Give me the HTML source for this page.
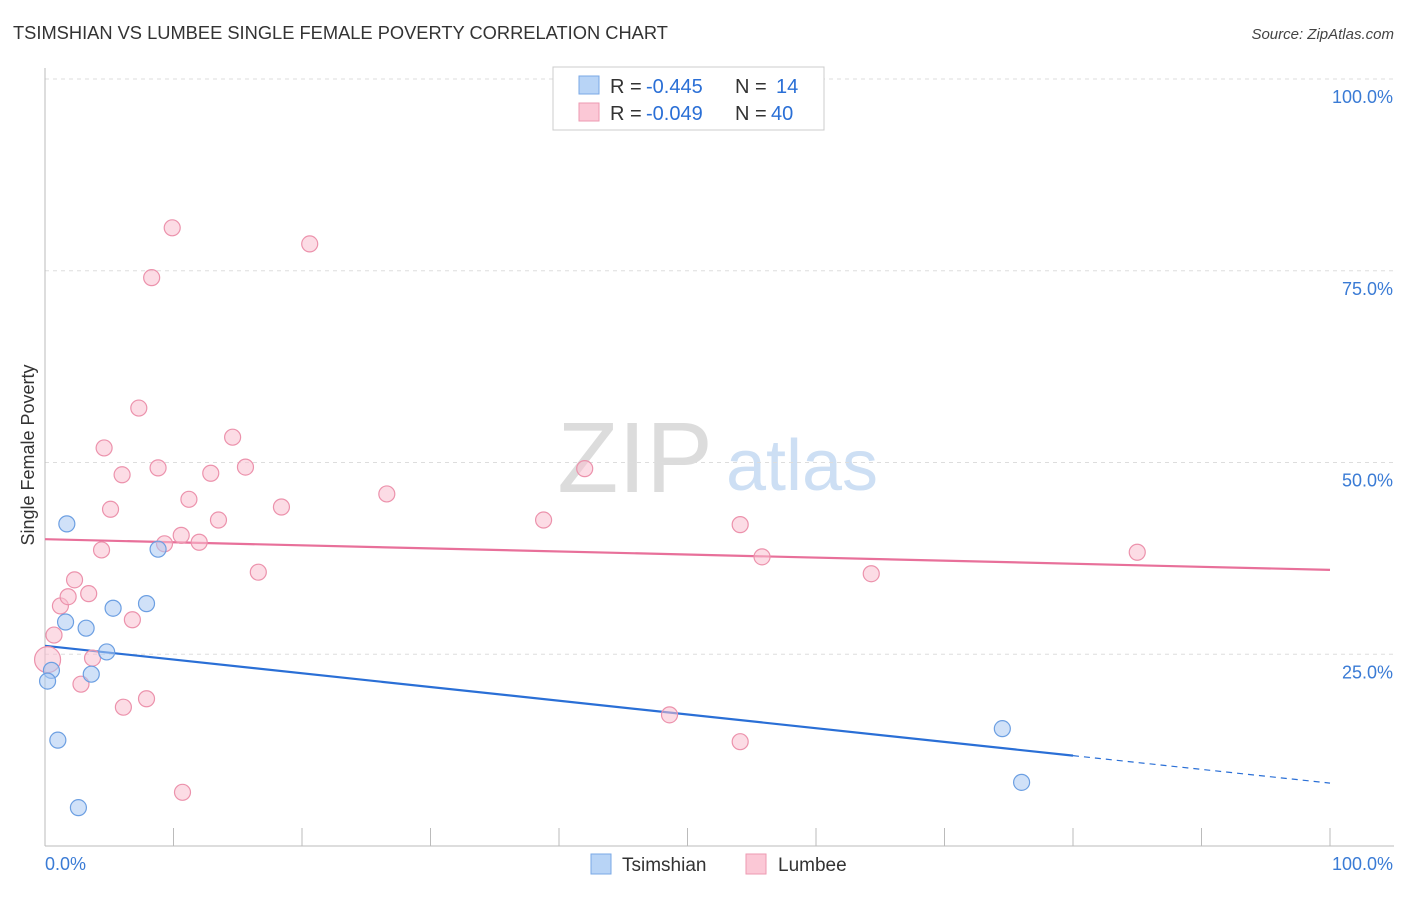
<!DOCTYPE html>
<html><head><meta charset="utf-8"><style>
body{margin:0;background:#fff;font-family:"Liberation Sans",sans-serif;}
svg text{font-family:"Liberation Sans",sans-serif;}
</style></head><body>
<svg id="chart" width="1406" height="892" xmlns="http://www.w3.org/2000/svg">
<text x="13" y="39" font-size="18.3" fill="#333">TSIMSHIAN VS LUMBEE SINGLE FEMALE POVERTY CORRELATION CHART</text>
<text x="1394" y="39" font-size="15" fill="#444" text-anchor="end" font-style="italic">Source: ZipAtlas.com</text>
<g>
<text x="635" y="492" font-size="100" fill="#dcdcdc" font-family="Liberation Serif" text-anchor="middle">ZIP</text>
<text x="802" y="490" font-size="72" fill="#cddff4" text-anchor="middle">atlas</text>
</g>
<g id="grid"></g>
<g id="axes"></g>
<text transform="translate(34,455) rotate(-90)" font-size="18" fill="#333" text-anchor="middle">Single Female Poverty</text>
<g id="lines"></g>
<g id="points"></g>
<g>
<rect x="553" y="67" width="271" height="63" fill="#fff" stroke="#ccc"/>
<rect x="579" y="76" width="20" height="18" fill="#b8d4f6" stroke="#7aa8e6"/>
<rect x="579" y="103" width="20" height="18" fill="#fbc8d6" stroke="#ee9ab2"/>
<text x="610" y="93" font-size="20" fill="#333">R =</text>
<text x="646" y="93" font-size="20" fill="#2a6fd6">-0.445</text>
<text x="735" y="93" font-size="20" fill="#333">N =</text>
<text x="776" y="93" font-size="20" fill="#2a6fd6">14</text>
<text x="610" y="120" font-size="20" fill="#333">R =</text>
<text x="646" y="120" font-size="20" fill="#2a6fd6">-0.049</text>
<text x="735" y="120" font-size="20" fill="#333">N =</text>
<text x="771" y="120" font-size="20" fill="#2a6fd6">40</text>
</g>
<g>
<rect x="591" y="854" width="20" height="20" fill="#b8d4f6" stroke="#7aa8e6"/>
<text x="622" y="871" font-size="19" fill="#333">Tsimshian</text>
<rect x="746" y="854" width="20" height="20" fill="#fbc8d6" stroke="#ee9ab2"/>
<text x="778" y="871" font-size="19" fill="#333">Lumbee</text>
</g>
</svg>
<script>
const blueX=[1.7,8.8,1.6,3.2,5.3,7.9,4.8,3.6,0.5,0.2,1.0,2.6,74.5,76.0];
const blueY=[42.0,38.7,29.2,28.4,31.0,31.6,25.3,22.4,22.9,21.5,13.8,5.0,15.3,8.3];
const pinkX=[9.9,20.6,8.3,7.3,4.6,14.6,6.0,8.8,12.9,15.6,5.1,11.2,18.4,26.6,13.5,10.6,9.3,12.0,4.4,16.6,2.3,3.4,1.2,1.8,6.8,0.7,3.7,0.2,2.8,7.9,6.1,10.7,38.8,42.0,54.1,55.8,64.3,85.0,48.6,54.1];
const pinkY=[80.6,78.5,74.1,57.1,51.9,53.3,48.4,49.3,48.6,49.4,43.9,45.2,44.2,45.9,42.5,40.5,39.4,39.6,38.6,35.7,34.7,32.9,31.3,32.5,29.5,27.5,24.5,24.3,21.1,19.2,18.1,7.0,42.5,49.2,41.9,37.7,35.5,38.3,17.1,13.6];
const pinkR=[8,8,8,8,8,8,8,8,8,8,8,8,8,8,8,8,8,8,8,8,8,8,8,8,8,8,8,13,8,8,8,8,8,8,8,8,8,8,8,8];
const blueTrend=[26.1,8.2];
const blueSolidEnd=80;
const pinkTrend=[40.0,36.0];
const yTicks=[25,50,75,100];
const yTickLabels=["25.0%","50.0%","75.0%","100.0%"];
const xTickLabels=["0.0%","100.0%"];
const NS="http://www.w3.org/2000/svg";
const X=v=>45+v*12.85, Y=v=>846-v*7.67;
function mk(parent,tag,attrs){const e=document.createElementNS(NS,tag);for(const k in attrs)e.setAttribute(k,attrs[k]);document.getElementById(parent).appendChild(e);return e;}
yTicks.forEach((t,i)=>{
 const l=mk('grid','line',{x1:45,x2:1394,y1:Y(t),y2:Y(t),stroke:'#ddd','stroke-dasharray':'4,4'});
 
 
 const tx=mk('grid','text',{x:1393,y:Y(t)+24,'font-size':18,fill:'#3a7bd5','text-anchor':'end'});
 tx.textContent=yTickLabels[i];
 
 
});
mk('axes','line',{x1:45,x2:45,y1:68,y2:846,stroke:'#bbb'});
mk('axes','line',{x1:45,x2:1394,y1:846,y2:846,stroke:'#bbb'});
for(let i=0;i<=10;i++){const t=mk('axes','line',{x1:X(i*10),x2:X(i*10),y1:828,y2:846,stroke:'#bbb'});}
const xl0=mk('axes','text',{x:45,y:870,'font-size':18,fill:'#3a7bd5'});xl0.textContent=xTickLabels[0];


const xl1=mk('axes','text',{x:1393,y:870,'font-size':18,fill:'#3a7bd5','text-anchor':'end'});xl1.textContent=xTickLabels[1];


function pts(xs,ys,rs,fill,stroke,name){xs.forEach((x,i)=>{const c=mk('points','circle',{cx:X(x),cy:Y(ys[i]),r:rs?rs[i]:8,fill:fill,'fill-opacity':0.55,stroke:stroke,'stroke-width':1.2});
 
 });}
pts(pinkX,pinkY,pinkR,'#f9bfd0','#ec92ac','lumbee-point');
pts(blueX,blueY,null,'#a9c9f2','#6c9fe2','tsimshian-point');
const bm=blueTrend[0]+(blueTrend[1]-blueTrend[0])*blueSolidEnd/100;
const b1=mk('lines','line',{x1:X(0),y1:Y(blueTrend[0]),x2:X(blueSolidEnd),y2:Y(bm),stroke:'#2a6fd6','stroke-width':2.2});


const b2=mk('lines','line',{x1:X(blueSolidEnd),y1:Y(bm),x2:X(100),y2:Y(blueTrend[1]),stroke:'#2a6fd6','stroke-width':1.2,'stroke-dasharray':'6,5'});


const p1=mk('lines','line',{x1:X(0),y1:Y(pinkTrend[0]),x2:X(100),y2:Y(pinkTrend[1]),stroke:'#e8709a','stroke-width':2.2});


</script>
</body></html>
